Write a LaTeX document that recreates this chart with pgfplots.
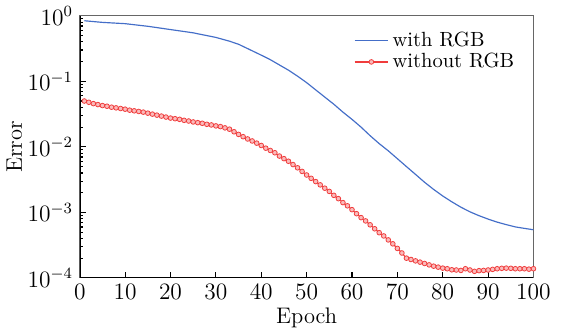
\documentclass[border=0pt]{standalone}
\usepackage{pgfplots}
\pgfplotsset{compat=1.18}
\definecolor{bl}{RGB}{68,110,200}
\definecolor{rd}{RGB}{240,60,60}
\begin{document}
\begin{tikzpicture}
\begin{axis}[
  scale only axis, width=232pt, height=134pt,
  ymode=log, xmin=0, xmax=100, ymin=1e-4, ymax=1,
  xtick={0,10,...,100},
  ytick={1e-4,1e-3,1e-2,1e-1,1},
  tick align=inside, xtick pos=left, ytick pos=left,
  major tick length=3pt, minor tick length=1.6pt,
  axis line style={black!60, line width=0.6pt},
  every tick/.style={black, line width=0.6pt},
  xlabel={Epoch}, ylabel={Error},
  xlabel style={yshift=3pt, font=\fontsize{11.5}{13}\selectfont},
  ylabel style={yshift=-4pt, font=\fontsize{11.5}{13}\selectfont},
  tick label style={font=\fontsize{11.5}{13}\selectfont},
  legend style={at={(0.98,0.97)}, anchor=north east, draw=none, fill=none, font=\fontsize{10.5}{12}\selectfont, row sep=-2pt},
  legend cell align=left,
]
\addplot[bl, line width=0.6pt] coordinates {
(1,0.841)(5,0.794)(10,0.759)(15,0.692)(20,0.617)(25,0.550)(30,0.468)(33,0.410)(35,0.368)(37,0.316)(40,0.251)(42,0.214)(44,0.178)(46,0.148)(48,0.120)(50,0.0955)(52,0.0741)(54,0.0575)(56,0.0447)(58,0.0339)(60,0.0263)(62,0.0200)(64,0.0148)(66,0.0112)(68,0.0087)(70,0.0066)(72,0.0050)(74,0.0038)(76,0.00288)(78,0.00224)(80,0.00178)(82,0.00145)(84,0.00120)(86,0.00102)(88,8.9e-4)(90,7.9e-4)(92,7.1e-4)(94,6.5e-4)(96,6.0e-4)(98,5.7e-4)(100,5.43e-4)
};
\addlegendentry{with RGB}
\addplot[rd, line width=0.6pt, mark=*, mark size=1.2pt, mark options={draw=rd, fill=rd!35, line width=0.4pt}] coordinates {
(1,0.0501)(2,0.0479)(3,0.0457)(4,0.0442)(5,0.0427)(6,0.0417)(7,0.0403)(8,0.0394)(9,0.0385)(10,0.0376)
(11,0.0363)(12,0.0355)(13,0.0347)(14,0.0339)(15,0.0327)(16,0.0316)(17,0.0305)(18,0.0295)(19,0.0285)(20,0.0275)
(21,0.0269)(22,0.0263)(23,0.0254)(24,0.0248)(25,0.0240)(26,0.0234)(27,0.0229)(28,0.0221)(29,0.0216)(30,0.0209)
(31,0.0204)(32,0.0195)(33,0.0186)(34,0.0170)(35,0.0155)(36,0.0143)(37,0.0132)(38,0.0123)(39,0.0114)(40,0.0105)
(41,0.00955)(42,0.00881)(43,0.00813)(44,0.00724)(45,0.00661)(46,0.00603)(47,0.00537)(48,0.00479)(49,0.00422)(50,0.00372)
(51,0.00331)(52,0.00295)(53,0.00263)(54,0.00234)(55,0.00209)(56,0.00182)(57,0.00162)(58,0.00141)(59,0.00126)(60,0.00110)
(61,9.55e-4)(62,8.32e-4)(63,7.41e-4)(64,6.46e-4)(65,5.62e-4)(66,4.90e-4)(67,4.37e-4)(68,3.80e-4)(69,3.31e-4)(70,2.82e-4)
(71,2.40e-4)(72,2.00e-4)(73,1.91e-4)(74,1.82e-4)(75,1.74e-4)(76,1.66e-4)(77,1.58e-4)(78,1.51e-4)(79,1.46e-4)(80,1.41e-4)
(81,1.38e-4)(82,1.33e-4)(83,1.32e-4)(84,1.30e-4)(85,1.38e-4)(86,1.32e-4)(87,1.26e-4)(88,1.29e-4)(89,1.30e-4)(90,1.32e-4)
(91,1.35e-4)(92,1.38e-4)(93,1.40e-4)(94,1.41e-4)(95,1.40e-4)(96,1.38e-4)(97,1.38e-4)(98,1.38e-4)(99,1.36e-4)(100,1.38e-4)
};
\addlegendentry{without RGB}
\draw[black, line width=0.8pt] (rel axis cs:0,1) -- (rel axis cs:0,0) -- (rel axis cs:1,0);
\end{axis}
\path (current bounding box.east) ++(5pt,0);
\end{tikzpicture}
\end{document}
